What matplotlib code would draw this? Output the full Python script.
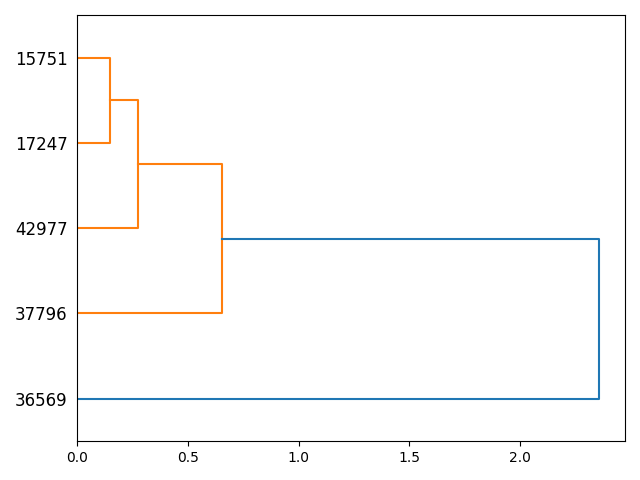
import numpy as np
import matplotlib
matplotlib.use("Agg")
import matplotlib.pyplot as plt

# leaves, bottom to top
labels = ['36569', '37796', '42977', '17247', '15751']
# merges: (left node, right node, height); nodes 0-4 are leaves, 5+ are merges
merges = [(4, 3, 0.148),
          (2, 5, 0.275),
          (1, 6, 0.655),
          (0, 7, 2.357)]
threshold = 0.7 * max(m[2] for m in merges)

fig, ax = plt.subplots(figsize=(6.4, 4.8))

pos = {i: 5 + 10 * i for i in range(len(labels))}
hgt = {i: 0.0 for i in range(len(labels))}
for k, (a, b, h) in enumerate(merges):
    node = len(labels) + k
    col = 'C1' if h < threshold else 'C0'
    ax.plot([hgt[a], h, h, hgt[b]], [pos[a], pos[a], pos[b], pos[b]], color=col, lw=1.5)
    pos[node] = (pos[a] + pos[b]) / 2
    hgt[node] = h

ax.set_ylim(0, 10 * len(labels))
ax.set_xlim(0, 1.05 * merges[-1][2])
ax.set_yticks([5 + 10 * i for i in range(len(labels))])
ax.set_yticklabels(labels, fontsize=12)
for line in ax.get_yticklines():
    line.set_visible(False)

plt.tight_layout()
plt.savefig('out.png', dpi=100)
